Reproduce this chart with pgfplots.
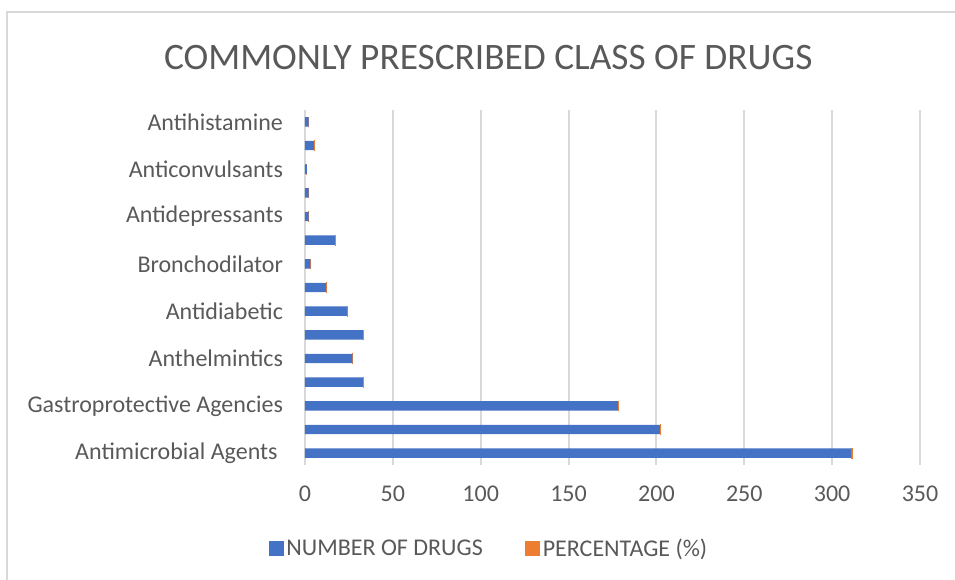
\documentclass[border=0pt]{standalone}
\usepackage{pgfplots}
\usepackage{pgfplotstable}
\usepackage{fontspec}
\setmainfont{Carlito}
\pgfplotsset{compat=1.18}
\definecolor{txt}{HTML}{595959}
\definecolor{barblue}{HTML}{4472C4}
\definecolor{barorange}{HTML}{ED7D31}
\definecolor{gridc}{HTML}{D9D9D9}
\pgfplotstableread{
y n p
0 311 0.365
1 202 0.237
2 178 0.209
3 33 0.039
4 27 0.032
5 33 0.039
6 24 0.028
7 12 0.014
8 3 0.004
9 17 0.020
10 2 0.002
11 2 0.002
12 1 0.001
13 5 0.006
14 2 0.002
}\datatable
\begin{document}
\begin{tikzpicture}
\useasboundingbox (-228.75pt,-86.25pt) rectangle (487.5pt,348.75pt);
\begin{axis}[
  scale only axis,
  width=461.25pt, height=266.25pt,
  xbar stacked,
  bar width=7.1pt,
  xmin=0, xmax=350,
  ymin=-0.5, ymax=14.5,
  xtick={0,50,...,350},
  ytick={0,...,14},
  yticklabels={Antimicrobial Agents\kern4pt,{},Gastroprotective Agencies,{},Anthelmintics,{},Antidiabetic,{},Bronchodilator,{},Antidepressants,{},Anticonvulsants,{},Antihistamine},
  major tick length=0pt,
  axis line style={draw=none},
  xmajorgrids,
  major grid style={color=gridc, line width=1.5pt},
  tick label style={font=\fontsize{18}{20}\selectfont, text=txt},
  yticklabel style={anchor=east, xshift=-13pt},
  xticklabel style={anchor=north, yshift=-12pt},
  /pgf/number format/assume math mode=true,
  legend style={at={(0.3,-0.237)}, anchor=center, legend columns=2, draw=none, fill=none,
    font=\fontsize{18}{20}\selectfont, text=txt,
    /tikz/every even column/.append style={column sep=30pt},
    /tikz/every odd column/.append style={inner sep=1pt}},
  legend image code/.code={\path[#1, draw=none] (-3pt,-5pt) rectangle (8pt,6pt);},
  clip=false,
]
\addplot[fill=barblue, draw=none] table[x=n, y=y]{\datatable};
\addplot[fill=barorange, draw=barorange, line width=0.4pt] table[x=p, y=y]{\datatable};
\legend{NUMBER OF DRUGS, PERCENTAGE (\%)}
\node[font=\fontsize{28}{32}\selectfont, text=txt] at (rel axis cs:0.298,1.149) {COMMONLY PRESCRIBED CLASS OF DRUGS};
\end{axis}
\draw[gridc, line width=1.2pt] (-223.5pt,-90pt) -- (-223.5pt,339.75pt) -- (490pt,339.75pt);
\end{tikzpicture}
\end{document}
